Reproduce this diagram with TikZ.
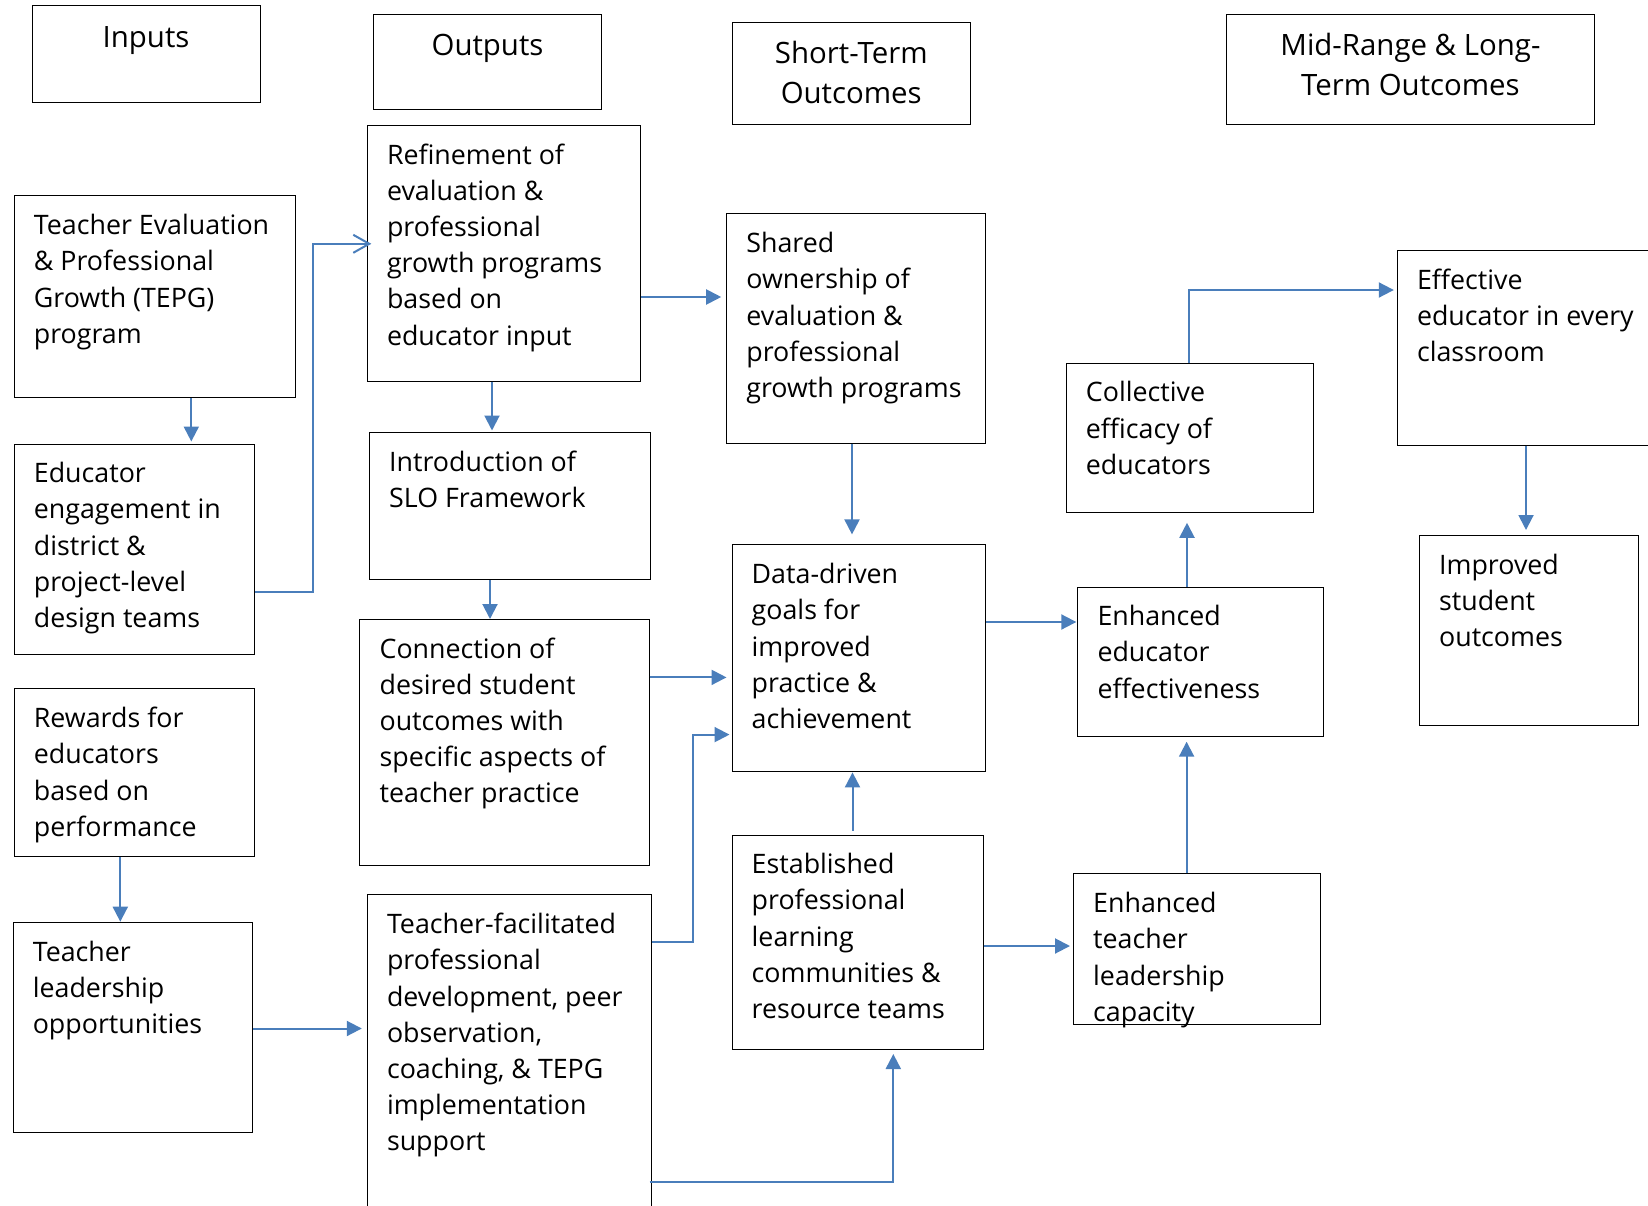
\documentclass[tikz,border=0pt]{standalone}
\usepackage{fontspec}
\setmainfont{Open Sans}
\usetikzlibrary{arrows.meta,calc}
\definecolor{connblue}{HTML}{4A7EBB}
\begin{document}
\begin{tikzpicture}[x=1pt,y=-1pt,
  box/.style={draw=black, line width=1.0pt, inner sep=0pt, anchor=north west},
  txt/.style={font=\fontsize{26.8}{36.15}\selectfont, align=left, inner sep=0pt, anchor=north west},
  head/.style={font=\fontsize{29.4}{39.9}\selectfont, align=center, inner sep=0pt, anchor=north},
  arr/.style={draw=connblue, line width=2pt, -{Triangle[length=15pt,width=15pt]}},
  oarr/.style={draw=connblue, line width=2pt, -{Straight Barb[length=16pt,width=18pt]}},
]
\useasboundingbox (0,0) rectangle (1648,1206);
\clip (0,0) rectangle (1648,1206);

% header boxes
\node[box, minimum width=228.1pt, minimum height=96.7pt] (inputs) at (31.5,5.3) {};
\node[head] (inputs-t) at ($(inputs.north)+(0,13.6)$) {\strut Inputs};
\node[box, minimum width=228pt, minimum height=95.6pt] (outputs) at (373,13.7) {};
\node[head] (outputs-t) at ($(outputs.north)+(0,13.6)$) {\strut Outputs};
\node[box, minimum width=238.5pt, minimum height=102pt] (short) at (731.5,22) {};
\node[head] (short-t) at ($(short.north)+(0,13.6)$) {\strut Short-Term\\Outcomes};
\node[box, minimum width=368.9pt, minimum height=110.3pt] (mid) at (1225.5,13.7) {};
\node[head] (mid-t) at ($(mid.north)+(0,13.6)$) {\strut Mid-Range \& Long-\\Term Outcomes};

% content boxes
\node[box, minimum width=281.6pt, minimum height=201.8pt] (tepg) at (13.7,195.5) {};
\node[txt] (tepg-t) at ($(tepg.north west)+(20,13.8)$) {\strut Teacher Evaluation\\\& Professional\\Growth (TEPG)\\program};

\node[box, minimum width=240.6pt, minimum height=210.2pt] (edeng) at (13.7,443.5) {};
\node[txt] (edeng-t) at ($(edeng.north west)+(20,13.8)$) {\strut Educator\\engagement in\\district \&\\project-level\\design teams};

\node[box, minimum width=240.6pt, minimum height=167.1pt] (rewards) at (13.7,688.4) {};
\node[txt] (rewards-t) at ($(rewards.north west)+(20,13.8)$) {\strut Rewards for\\educators\\based on\\performance};

\node[box, minimum width=239.6pt, minimum height=210.3pt] (tl) at (12.6,921.7) {};
\node[txt] (tl-t) at ($(tl.north west)+(20,13.8)$) {\strut Teacher\\leadership\\opportunities};

\node[box, minimum width=273.2pt, minimum height=255.5pt] (refine) at (366.8,125) {};
\node[txt] (refine-t) at ($(refine.north west)+(20,13.8)$) {\strut Refinement of\\evaluation \&\\professional\\growth programs\\based on\\educator input};

\node[box, minimum width=280.5pt, minimum height=147pt] (intro) at (369,432) {};
\node[txt] (intro-t) at ($(intro.north west)+(20,13.8)$) {\strut Introduction of\\SLO Framework};

\node[box, minimum width=289.1pt, minimum height=246pt] (conn) at (359.4,619) {};
\node[txt] (conn-t) at ($(conn.north west)+(20,13.8)$) {\strut Connection of\\desired student\\outcomes with\\specific aspects of\\teacher practice};

\node[box, minimum width=283.8pt, minimum height=330pt] (tf) at (366.8,894.4) {};
\node[txt] (tf-t) at ($(tf.north west)+(20,13.8)$) {\strut Teacher-facilitated\\professional\\development, peer\\observation,\\coaching, \& TEPG\\implementation\\support};

\node[box, minimum width=258.6pt, minimum height=229.1pt] (shared) at (726.2,213.4) {};
\node[txt] (shared-t) at ($(shared.north west)+(20,13.8)$) {\strut Shared\\ownership of\\evaluation \&\\professional\\growth programs};

\node[box, minimum width=253.3pt, minimum height=227pt] (dd) at (731.5,544.4) {};
\node[txt] (dd-t) at ($(dd.north west)+(20,13.8)$) {\strut Data-driven\\goals for\\improved\\practice \&\\achievement};

\node[box, minimum width=251.2pt, minimum height=214.5pt] (est) at (731.5,834.5) {};
\node[txt] (est-t) at ($(est.north west)+(20,13.8)$) {\strut Established\\professional\\learning\\communities \&\\resource teams};

\node[box, minimum width=247pt, minimum height=149.2pt] (coll) at (1065.7,362.6) {};
\node[txt] (coll-t) at ($(coll.north west)+(20,13.8)$) {\strut Collective\\efficacy of\\educators};

\node[box, minimum width=245.9pt, minimum height=149.2pt] (ee) at (1077.3,586.5) {};
\node[txt] (ee-t) at ($(ee.north west)+(20,13.8)$) {\strut Enhanced\\educator\\effectiveness};

\node[box, minimum width=247pt, minimum height=150.3pt] (etl) at (1073,873.4) {};
\node[txt] (etl-t) at ($(etl.north west)+(20,13.8)$) {\strut Enhanced\\teacher\\leadership\\capacity};

\node[box, minimum width=270pt, minimum height=194.5pt] (eff) at (1396.8,250.1) {};
\node[txt] (eff-t) at ($(eff.north west)+(20,13.8)$) {\strut Effective\\educator in every\\classroom};

\node[box, minimum width=218.6pt, minimum height=190.2pt] (imp) at (1418.9,535) {};
\node[txt] (imp-t) at ($(imp.north west)+(20,13.8)$) {\strut Improved\\student\\outcomes};

% connectors
\coordinate (x1) at (191.3,0);
\draw[arr, shorten >=2pt] (tepg.south -| x1) -- (edeng.north -| x1);

\coordinate (c2a) at (313.2,591.7);
\coordinate (c2b) at (313.2,243.8);
\draw[oarr, shorten >=-4.5pt] (edeng.east |- c2a) -- (c2a) -- (c2b) -- (refine.west |- c2b);

\coordinate (x3) at (492,0);
\draw[arr, shorten >=1.5pt] (refine.south -| x3) -- (intro.north -| x3);

\coordinate (x4) at (490,0);
\draw[arr] (intro.south -| x4) -- (conn.north -| x4);

\coordinate (y5) at (0,297);
\draw[arr, shorten >=5pt] (refine.east |- y5) -- (shared.west |- y5);

\coordinate (x6) at (852,0);
\draw[arr, shorten >=10pt] (shared.south -| x6) -- (dd.north -| x6);

\coordinate (y7) at (0,677.4);
\draw[arr, shorten >=5pt] (conn.east |- y7) -- (dd.west |- y7);

\coordinate (c8a) at (692.6,941.7);
\coordinate (c8b) at (692.6,734.6);
\draw[arr, shorten >=2pt] (tf.east |- c8a) -- (c8a) -- (c8b) -- (dd.west |- c8b);

\coordinate (x9) at (852.5,0);
\draw[arr, shorten <=4pt] (est.north -| x9) -- (dd.south -| x9);

\coordinate (c10) at (893.3,1182);
\draw[arr, shorten >=4pt, shorten <=-2pt] (tf.east |- c10) -- (c10) -- (est.south -| c10);

\coordinate (y11) at (0,946);
\draw[arr, shorten >=3pt] (est.east |- y11) -- (etl.west |- y11);

\coordinate (y12) at (0,622);
\draw[arr, shorten >=1pt] (dd.east |- y12) -- (ee.west |- y12);

\coordinate (x13) at (1186.6,0);
\draw[arr, shorten >=5pt] (etl.north -| x13) -- (ee.south -| x13);

\coordinate (x14) at (1187,0);
\draw[arr, shorten >=10pt] (ee.north -| x14) -- (coll.south -| x14);

\coordinate (c15) at (1188.7,290);
\draw[arr, shorten >=3pt] (coll.north -| c15) -- (c15) -- (eff.west |- c15);

\coordinate (x16) at (1526,0);
\draw[arr, shorten >=5pt] (eff.south -| x16) -- (imp.north -| x16);

\coordinate (x17) at (120.3,0);
\draw[arr] (rewards.south -| x17) -- (tl.north -| x17);

\coordinate (y18) at (0,1028.5);
\draw[arr, shorten >=5pt] (tl.east |- y18) -- (tf.west |- y18);
\end{tikzpicture}
\end{document}
